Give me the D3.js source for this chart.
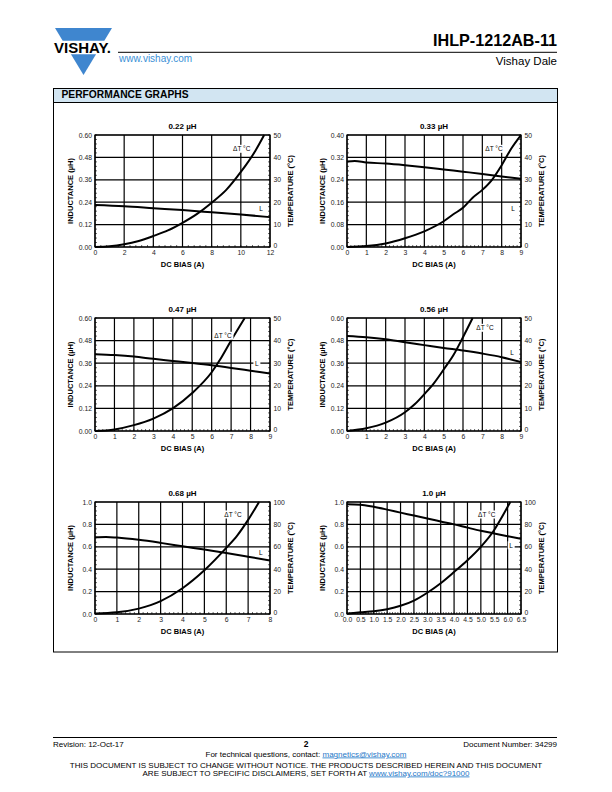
<!DOCTYPE html>
<html><head><meta charset="utf-8">
<script src="https://cdn.jsdelivr.net/npm/d3@7"></script>
<style>
body{margin:0;background:#fff}
svg{display:block}
text{font-family:"Liberation Sans",Arial,Helvetica,sans-serif}
</style>
</head><body>
<script>
// ---------- DATA ----------
const titles = ["0.22 µH", "0.33 µH", "0.47 µH", "0.56 µH", "0.68 µH", "1.0 µH"];
const xMaxes = [12, 9, 9, 9, 8, 6.5];
const xSteps = [2, 1, 1, 1, 1, 0.5];
const lMaxes = [0.60, 0.40, 0.60, 0.60, 1.0, 1.0];
const lSteps = [0.12, 0.08, 0.12, 0.12, 0.2, 0.2];
const tMaxes = [50, 50, 50, 50, 100, 100];
const tSteps = [10, 10, 10, 10, 20, 20];

// inductance curves (A, µH)
const l022X = [0, 2, 4, 6, 8, 10, 12];
const l022Y = [0.225, 0.218, 0.208, 0.198, 0.186, 0.174, 0.160];
const l033X = [0, 0.4, 1, 2, 3, 4, 5, 6, 7, 8, 9];
const l033Y = [0.305, 0.307, 0.302, 0.298, 0.292, 0.285, 0.277, 0.269, 0.261, 0.252, 0.244];
const l047X = [0, 1, 2, 3, 4, 5, 6, 7, 8, 9];
const l047Y = [0.408, 0.403, 0.395, 0.383, 0.372, 0.361, 0.349, 0.335, 0.320, 0.305];
const l056X = [0, 1, 2, 3, 4, 5, 6, 7, 8, 9];
const l056Y = [0.505, 0.498, 0.487, 0.471, 0.456, 0.441, 0.427, 0.411, 0.392, 0.366];
const l068X = [0, 0.5, 1, 2, 3, 4, 5, 6, 7, 8];
const l068Y = [0.685, 0.688, 0.682, 0.662, 0.635, 0.605, 0.575, 0.545, 0.512, 0.478];
const l100X = [0, 0.5, 1, 1.5, 2, 2.5, 3, 3.5, 4, 4.5, 5, 5.5, 6, 6.5];
const l100Y = [0.979, 0.976, 0.957, 0.932, 0.905, 0.879, 0.852, 0.826, 0.800, 0.771, 0.743, 0.719, 0.695, 0.672];

// temperature rise curves (A, °C)
const t022X = [0, 1, 2, 3, 4, 5, 6, 7, 8, 9, 10, 11, 11.6];
const t022Y = [0, 0.3, 1.2, 2.7, 4.9, 7.4, 10.8, 14.8, 19.8, 25.5, 33.5, 43, 50];
const t033X = [0, 1, 2, 3, 4, 5, 5.5, 6, 6.5, 7, 7.5, 8, 8.5, 9];
const t033Y = [0, 0.4, 1.6, 3.9, 7.0, 11.5, 14.6, 17.5, 22.0, 25.5, 30.0, 36.5, 44.0, 50];
const t047X = [0, 1, 2, 3, 4, 5, 6, 6.5, 7, 7.7];
const t047Y = [0, 0.7, 2.6, 5.5, 10.0, 16.8, 26.0, 32.5, 40.0, 50];
const t056X = [0, 1, 2, 3, 3.5, 4, 4.5, 5, 5.5, 6, 6.5];
const t056Y = [0, 1.2, 3.7, 8.3, 11.8, 16.3, 21.2, 27.2, 33.5, 41.5, 50];
const t068X = [0, 1, 2, 3, 4, 5, 6, 6.5, 7, 7.5];
const t068Y = [0.5, 1.5, 4.8, 11.5, 23, 39, 59, 70, 84, 100];
const t100X = [0, 0.5, 1, 1.5, 2, 2.5, 3, 3.5, 4, 4.5, 5, 5.5, 5.75, 6.1];
const t100Y = [0.5, 1.5, 2.5, 4.3, 7.3, 12, 19, 27.5, 37.5, 48, 60, 75, 85, 100];

const lXs = [l022X, l033X, l047X, l056X, l068X, l100X];
const lYs = [l022Y, l033Y, l047Y, l056Y, l068Y, l100Y];
const tXs = [t022X, t033X, t047X, t056X, t068X, t100X];
const tYs = [t022Y, t033Y, t047Y, t056Y, t068Y, t100Y];

// ---------- LAYOUT ----------
const FONT = '"Liberation Sans",Arial,Helvetica,sans-serif';
const svg = d3.select("body").append("svg").attr("width", 612).attr("height", 792);

// Header / logo
const blue = "#3f86cf";
const apex = [83.5, 75], topY = 28, L0 = 55, R0 = 112;
function halfAt(y) { return (R0 - L0) / 2 * (apex[1] - y) / (apex[1] - topY); }
const yA = 40.7, yB = 54.3;
svg.append("path").attr("fill", blue)
  .attr("d", `M${L0},${topY}L${R0},${topY}L${apex[0] + halfAt(yA)},${yA}L${apex[0] - halfAt(yA)},${yA}Z`);
svg.append("path").attr("fill", blue)
  .attr("d", `M${apex[0] - halfAt(yB)},${yB}L${apex[0] + halfAt(yB)},${yB}L${apex[0]},${apex[1]}Z`);
svg.append("text").attr("x", 54).attr("y", 53.2).attr("font-size", 14.5).attr("font-weight", "bold")
  .attr("textLength", 57).attr("lengthAdjust", "spacingAndGlyphs").attr("fill", "#000").text("VISHAY.");
svg.append("text").attr("x", 119).attr("y", 61.5).attr("font-size", 10).attr("fill", "#3a8fd6").text("www.vishay.com");
svg.append("line").attr("x1", 118).attr("x2", 557).attr("y1", 52.3).attr("y2", 52.3).attr("stroke", "#000").attr("stroke-width", 1);
svg.append("text").attr("x", 557).attr("y", 46).attr("text-anchor", "end").attr("font-size", 17).attr("font-weight", "bold")
  .attr("textLength", 124).attr("lengthAdjust", "spacingAndGlyphs").text("IHLP-1212AB-11");
svg.append("text").attr("x", 557).attr("y", 64.8).attr("text-anchor", "end").attr("font-size", 11.5).text("Vishay Dale");

// Section box
svg.append("rect").attr("x", 53.5).attr("y", 88.5).attr("width", 504).attr("height", 14).attr("fill", "#d2e5f2").attr("stroke", "#000").attr("stroke-width", 1);
svg.append("rect").attr("x", 53.5).attr("y", 88.5).attr("width", 504).attr("height", 563.5).attr("fill", "none").attr("stroke", "#000").attr("stroke-width", 1);
svg.append("text").attr("x", 61.5).attr("y", 97.6).attr("font-size", 10).attr("font-weight", "bold")
  .attr("textLength", 127).attr("lengthAdjust", "spacingAndGlyphs").text("PERFORMANCE GRAPHS");

// Charts
const colX = [[95, 270], [347, 521]];
const rowY = [[135, 247], [318, 431], [502, 614]];
const dtLabelPos = [[146.7, 14], [147, 14], [128, 18], [138, 10], [138, 12.7], [139.7, 12.7]];
const lLabelPos = [[166, 74], [166, 74], [161.7, 45.5], [165, 35], [165.7, 51], [164, 43.5]];

function range(max, step) {
  const n = Math.round(max / step);
  return d3.range(n + 1).map(i => +(i * step).toFixed(6));
}

titles.forEach((title, i) => {
  const col = i % 2, row = Math.floor(i / 2);
  const [x0, x1] = colX[col], [y0, y1] = rowY[row];
  const x = d3.scaleLinear().domain([0, xMaxes[i]]).range([x0, x1]);
  const yL = d3.scaleLinear().domain([0, lMaxes[i]]).range([y1, y0]);
  const yT = d3.scaleLinear().domain([0, tMaxes[i]]).range([y1, y0]);
  const g = svg.append("g");
  const xt = range(xMaxes[i], xSteps[i]);
  const lt = range(lMaxes[i], lSteps[i]);
  const tt = range(tMaxes[i], tSteps[i]);
  const xMinor = range(xMaxes[i], xSteps[i] / 5);
  const lMinor = range(lMaxes[i], lSteps[i] / 5);

  // minor ticks
  g.selectAll(".mx").data(xMinor).join("line")
    .attr("x1", d => x(d)).attr("x2", d => x(d)).attr("y1", y1).attr("y2", y1 - 2)
    .attr("stroke", "#000").attr("stroke-width", 0.6);
  g.selectAll(".ml").data(lMinor).join("line")
    .attr("x1", x0).attr("x2", x0 + 2).attr("y1", d => yL(d)).attr("y2", d => yL(d))
    .attr("stroke", "#000").attr("stroke-width", 0.6);
  g.selectAll(".mr").data(lMinor).join("line")
    .attr("x1", x1).attr("x2", x1 - 2).attr("y1", d => yL(d)).attr("y2", d => yL(d))
    .attr("stroke", "#000").attr("stroke-width", 0.6);

  // grid
  g.selectAll(".gx").data(xt).join("line")
    .attr("x1", d => x(d)).attr("x2", d => x(d)).attr("y1", y0).attr("y2", y1)
    .attr("stroke", "#000").attr("stroke-width", 1.2);
  g.selectAll(".gy").data(lt).join("line")
    .attr("x1", x0).attr("x2", x1).attr("y1", d => yL(d)).attr("y2", d => yL(d))
    .attr("stroke", "#000").attr("stroke-width", 1.2);

  // axes via d3 (labels only)
  const lfmt = lSteps[i] < 0.1 || lSteps[i] === 0.12 ? d3.format(".2f") : d3.format(".1f");
  const xfmt = xSteps[i] < 1 ? d3.format(".1f") : d3.format("d");
  const axL = g.append("g").attr("transform", `translate(${x0},0)`)
    .call(d3.axisLeft(yL).tickValues(lt).tickFormat(lfmt).tickSize(0).tickPadding(3));
  const axR = g.append("g").attr("transform", `translate(${x1},0)`)
    .call(d3.axisRight(yT).tickValues(tt).tickFormat(d3.format("d")).tickSize(0).tickPadding(3.5));
  const axB = g.append("g").attr("transform", `translate(0,${y1})`)
    .call(d3.axisBottom(x).tickValues(xt).tickFormat(xfmt).tickSize(0).tickPadding(3.5));
  [axL, axR, axB].forEach(a => {
    a.select(".domain").remove();
    a.selectAll("text").attr("font-size", 6.8).attr("font-family", FONT).attr("fill", "#222");
  });
  // lift right-axis zero label slightly to keep it clear of the x labels
  axR.selectAll(".tick").filter(d => d === 0).select("text").attr("dy", "0.1em");

  // frame
  g.append("rect").attr("x", x0).attr("y", y0).attr("width", x1 - x0).attr("height", y1 - y0)
    .attr("fill", "none").attr("stroke", "#000").attr("stroke-width", 1.2);

  // titles
  g.append("text").attr("x", (x0 + x1) / 2).attr("y", y0 - 6).attr("text-anchor", "middle")
    .attr("font-size", 8).attr("font-weight", "bold").text(title);
  g.append("text").attr("x", (x0 + x1) / 2).attr("y", y1 + 20).attr("text-anchor", "middle")
    .attr("font-size", 7.5).attr("font-weight", "bold").text("DC BIAS (A)");
  g.append("text").attr("transform", `translate(${x0 - 22},${(y0 + y1) / 2}) rotate(-90)`)
    .attr("text-anchor", "middle").attr("font-size", 7.5).attr("font-weight", "bold").text("INDUCTANCE (µH)");
  g.append("text").attr("transform", `translate(${x1 + 23},${(y0 + y1) / 2}) rotate(-90)`)
    .attr("text-anchor", "middle").attr("font-size", 7.5).attr("font-weight", "bold").text("TEMPERATURE (°C)");

  // curves
  const clipId = "clip" + i;
  svg.append("clipPath").attr("id", clipId).append("rect")
    .attr("x", x0).attr("y", y0 - 1).attr("width", x1 - x0).attr("height", y1 - y0 + 2);
  const lineL = d3.line().x(d => x(d[0])).y(d => yL(d[1])).curve(d3.curveMonotoneX);
  const lineT = d3.line().x(d => x(d[0])).y(d => yT(d[1])).curve(d3.curveMonotoneX);
  g.append("path").attr("clip-path", `url(#${clipId})`)
    .datum(d3.zip(lXs[i], lYs[i])).attr("d", lineL)
    .attr("fill", "none").attr("stroke", "#000").attr("stroke-width", 2);
  g.append("path").attr("clip-path", `url(#${clipId})`)
    .datum(d3.zip(tXs[i], tYs[i])).attr("d", lineT)
    .attr("fill", "none").attr("stroke", "#000").attr("stroke-width", 2);

  // curve labels
  function label(txt, pos) {
    const t = g.append("text").attr("x", x0 + pos[0]).attr("y", y0 + pos[1] + 2.3)
      .attr("text-anchor", "middle").attr("font-size", 6.5).attr("fill", "#000").text(txt);
    const bb = t.node().getBBox();
    g.insert("rect", function () { return t.node(); })
      .attr("x", bb.x - 1.5).attr("y", bb.y - 0.5).attr("width", bb.width + 3).attr("height", bb.height + 1)
      .attr("fill", "#fff");
  }
  label("\u0394T °C", dtLabelPos[i]);
  label("L", lLabelPos[i]);
});

// Footer
svg.append("line").attr("x1", 53).attr("x2", 557).attr("y1", 737.5).attr("y2", 737.5).attr("stroke", "#000").attr("stroke-width", 1);
svg.append("text").attr("x", 53).attr("y", 746.5).attr("font-size", 8).text("Revision: 12-Oct-17");
svg.append("text").attr("x", 306).attr("y", 747).attr("text-anchor", "middle").attr("font-size", 8.5).attr("font-weight", "bold").text("2");
svg.append("text").attr("x", 557).attr("y", 746.5).attr("text-anchor", "end").attr("font-size", 8).text("Document Number: 34299");
const f1 = svg.append("text").attr("x", 306).attr("y", 756.5).attr("text-anchor", "middle").attr("font-size", 8);
f1.append("tspan").text("For technical questions, contact: ");
f1.append("tspan").attr("fill", "#1f78c8").attr("text-decoration", "underline").text("magnetics@vishay.com");
svg.append("text").attr("x", 306).attr("y", 767.5).attr("text-anchor", "middle").attr("font-size", 8)
  .text("THIS DOCUMENT IS SUBJECT TO CHANGE WITHOUT NOTICE. THE PRODUCTS DESCRIBED HEREIN AND THIS DOCUMENT");
const f3 = svg.append("text").attr("x", 306).attr("y", 775.5).attr("text-anchor", "middle").attr("font-size", 8);
f3.append("tspan").text("ARE SUBJECT TO SPECIFIC DISCLAIMERS, SET FORTH AT ");
f3.append("tspan").attr("fill", "#1f78c8").attr("text-decoration", "underline").text("www.vishay.com/doc?91000");
</script>
</body></html>
